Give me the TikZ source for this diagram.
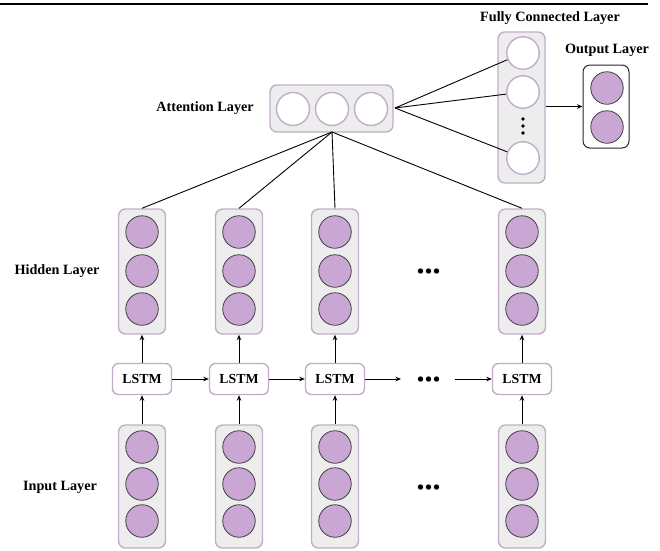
\documentclass[tikz,border=0pt]{standalone}
\usepackage{fontspec}
\setmainfont{Liberation Serif}
\usetikzlibrary{arrows.meta}
\definecolor{boxgray}{HTML}{EDEDED}
\definecolor{boxpurple}{HTML}{C2ADC9}
\definecolor{unitpurple}{HTML}{C9A6D3}
\tikzset{
  lbl/.style={font=\fontsize{14.2}{16}\selectfont\bfseries, inner sep=0pt},
  colbox/.style={draw=boxpurple, fill=boxgray, line width=1.4pt, rounded corners=7pt,
    minimum width=47pt, inner sep=0pt},
  unit/.style={circle, fill=unitpurple, draw=black!75, line width=0.8pt,
    minimum size=32.5pt, inner sep=0pt},
  wunit/.style={circle, fill=white, draw=boxpurple, line width=1.4pt,
    minimum size=32.5pt, inner sep=0pt},
  lstmbox/.style={draw=boxpurple, fill=white, line width=1.4pt, rounded corners=6pt,
    minimum width=59pt, minimum height=31pt, inner sep=0pt,
    font=\fontsize{13.8}{15}\selectfont\bfseries},
  conn/.style={line width=0.9pt, black},
  arr/.style={line width=0.9pt, black, -{Stealth[length=5.5pt,width=4.5pt]}},
}
\begin{document}
\begin{tikzpicture}[x=1pt, y=-1pt]
\useasboundingbox (0,0) rectangle (660,550);

% rule across the top
\draw[line width=1.5pt] (0,4) -- (648,4);

% columns: hidden layer (top) and input layer (bottom)
\foreach \i/\x in {1/142, 2/239, 3/335, 4/522} {
  \node[colbox, minimum height=125pt] (h\i) at (\x,271.5) {};
  \node[unit] (h\i a) at (\x,232) {};
  \node[unit] (h\i b) at (\x,271) {};
  \node[unit] (h\i c) at (\x,309) {};
  \node[colbox, minimum height=123pt] (in\i) at (\x,486.5) {};
  \node[unit] (in\i a) at (\x,447) {};
  \node[unit] (in\i b) at (\x,484) {};
  \node[unit] (in\i c) at (\x,521) {};
  \node[lstmbox] (l\i) at (\x,379) {LSTM};
  \draw[arr] (in\i.north) -- (l\i.south);
  \draw[arr] (l\i.north) -- (h\i.south);
}

% ellipsis marks
\foreach \y/\n in {271/hd, 379/ld, 487/id} {
  \coordinate (\n) at (428.5,\y);
  \foreach \dx in {-8,0,8} \fill ([xshift=\dx pt]\n) circle (2.7pt);
}

% recurrent links between LSTM cells
\coordinate (lgapL) at (401,379);
\coordinate (lgapR) at (455,379);
\draw[arr] (l1.east) -- (l2.west);
\draw[arr] (l2.east) -- (l3.west);
\draw[arr] (l3.east) -- (lgapL);
\draw[arr] (lgapR) -- (l4.west);

% attention layer
\node[colbox, minimum width=123pt, minimum height=47pt] (att) at (331.5,108.5) {};
\node[wunit, minimum size=33pt] (att1) at (293,109) {};
\node[wunit, minimum size=33pt] (att2) at (332,109) {};
\node[wunit, minimum size=33pt] (att3) at (371,109) {};
\coordinate (attS) at (332,132);
\coordinate (attE) at (395,108);
\foreach \i in {1,...,4} \draw[conn] (attS) -- (h\i.north);

% fully connected layer
\node[colbox, minimum height=151pt] (fc) at (521.5,107.5) {};
\node[wunit] (fc1) at (523,53) {};
\node[wunit] (fc2) at (523,92) {};
\node[wunit] (fc3) at (523,158) {};
\foreach \y in {119,126,133} \fill (523,\y) circle (1.8pt);
\foreach \i in {1,2,3} \draw[conn] (attE) -- (fc\i);

% output layer
\node[draw=black!85, fill=white, line width=1pt, rounded corners=7pt,
      minimum width=46pt, minimum height=83pt, inner sep=0pt] (out) at (606,106.5) {};
\node[unit] (o1) at (607,88) {};
\node[unit] (o2) at (607,127) {};
\draw[arr] (fc.east |- out.west) -- (out.west);

% layer labels
\node[lbl] (tAtt) at (205,108) {Attention Layer};
\node[lbl] (tHid) at (57,271) {Hidden Layer};
\node[lbl] (tIn) at (60,487) {Input Layer};
\node[lbl] (tFc) at (550,18) {Fully Connected Layer};
\node[lbl] (tOut) at (607,50) {Output Layer};
\end{tikzpicture}
\end{document}
